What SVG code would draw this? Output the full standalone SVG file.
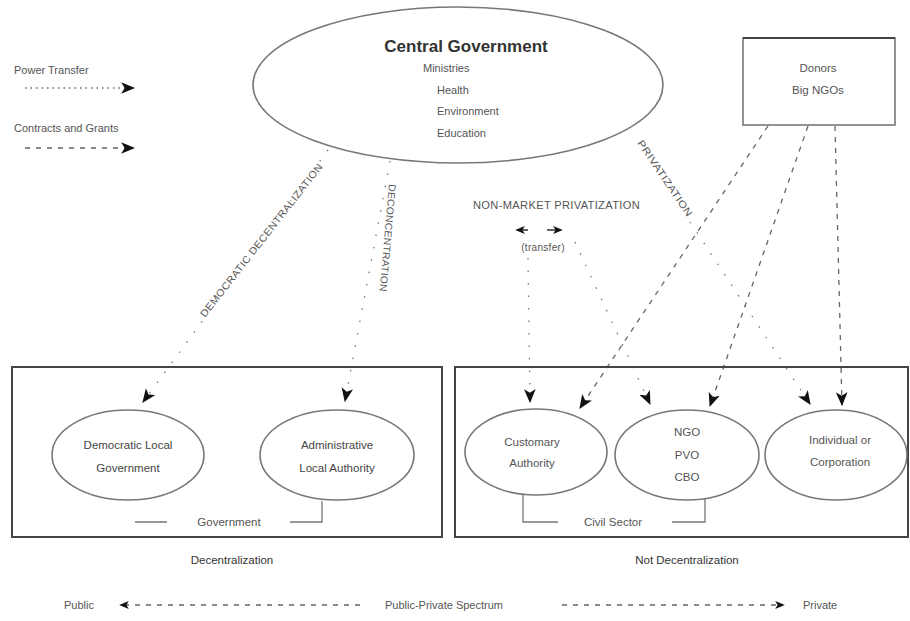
<svg xmlns="http://www.w3.org/2000/svg" width="910" height="621" viewBox="0 0 910 621">
<defs>
<marker id="ah" viewBox="0 0 12 10" refX="11" refY="5" markerWidth="14" markerHeight="12" markerUnits="userSpaceOnUse" orient="auto">
<path d="M0,0 L12,5 L0,10 L3,5 Z" fill="#111"/>
</marker>
<marker id="ahs" viewBox="0 0 12 10" refX="6" refY="5" markerWidth="10" markerHeight="8" markerUnits="userSpaceOnUse" orient="auto-start-reverse">
<path d="M0,0 L12,5 L0,10 L3,5 Z" fill="#111"/>
</marker>
</defs>
<style>
text{font-family:"Liberation Sans",Arial,sans-serif;fill:#555;}
.t{font-size:11px;}
.n{font-size:11.5px;text-anchor:middle;}
.lab{font-size:10px;letter-spacing:0.3px;}
.ell{fill:none;stroke:#777;stroke-width:1.6;}
.box{fill:none;stroke:#444;stroke-width:2;}
.dot{fill:none;stroke:#777;stroke-width:1.3;stroke-dasharray:1.5,11;}
.dash{fill:none;stroke:#666;stroke-width:1.3;stroke-dasharray:5,6;}
.br{fill:none;stroke:#777;stroke-width:1.3;}
.halo{paint-order:stroke;stroke:#fff;stroke-width:3px;}
.cap{font-size:11.5px;text-anchor:middle;fill:#333;}
</style>
<rect width="910" height="621" fill="#fff"/>

<g id="legend">
<text class="t" x="14" y="74">Power Transfer</text>
<line x1="25" y1="88" x2="134" y2="88" stroke="#666" stroke-width="1.3" stroke-dasharray="1.5,4" marker-end="url(#ah)"/>
<text class="t" x="14" y="132">Contracts and Grants</text>
<line class="dash" x1="25" y1="148" x2="134" y2="148" marker-end="url(#ah)"/>
</g>

<g id="connectors">
<line class="dot" x1="328" y1="150" x2="143" y2="402" marker-end="url(#ah)"/>
<line class="dot" x1="390" y1="161" x2="345" y2="401" marker-end="url(#ah)"/>
<line class="dot" x1="690" y1="222" x2="810" y2="404" marker-end="url(#ah)"/>
<line class="dot" x1="528" y1="258" x2="530" y2="402" marker-end="url(#ah)"/>
<line class="dot" x1="575" y1="242" x2="650" y2="404" marker-end="url(#ah)"/>
<line class="dash" x1="768" y1="126" x2="580" y2="408" marker-end="url(#ah)"/>
<line class="dash" x1="808" y1="126" x2="710" y2="406" marker-end="url(#ah)"/>
<line class="dash" x1="835" y1="126" x2="842" y2="405" marker-end="url(#ah)"/>
<line x1="520" y1="230" x2="528" y2="230" stroke="#111" stroke-width="1.3" marker-start="url(#ahs)"/>
<line x1="547" y1="230" x2="558" y2="230" stroke="#111" stroke-width="1.3" marker-end="url(#ahs)"/>
</g>

<g id="connector-labels">
<text class="lab halo" transform="translate(205,318) rotate(-52)" textLength="192" lengthAdjust="spacingAndGlyphs">DEMOCRATIC DECENTRALIZATION</text>
<text class="lab halo" transform="translate(389,184) rotate(95)" textLength="108" lengthAdjust="spacingAndGlyphs">DECONCENTRATION</text>
<text class="lab halo" transform="translate(637,143) rotate(56)" textLength="90" lengthAdjust="spacingAndGlyphs">PRIVATIZATION</text>
<text class="lab" x="473" y="209" textLength="167" lengthAdjust="spacingAndGlyphs">NON-MARKET PRIVATIZATION</text>
<text class="lab" x="543" y="251" text-anchor="middle">(transfer)</text>
</g>

<g id="central-government">
<ellipse class="ell" cx="458" cy="85" rx="205" ry="78"/>
<text x="466" y="52" text-anchor="middle" style="font-size:17px;font-weight:bold;fill:#333">Central Government</text>
<text class="t" x="423" y="72">Ministries</text>
<text class="t" x="437" y="94">Health</text>
<text class="t" x="437" y="115">Environment</text>
<text class="t" x="437" y="137">Education</text>
</g>

<g id="donors">
<rect x="743" y="38" width="152" height="87" fill="none" stroke="#777" stroke-width="1.6"/>
<path d="M743,38 H895" stroke="#444" stroke-width="2"/>
<text class="n" x="818" y="72">Donors</text>
<text class="n" x="818" y="94">Big NGOs</text>
</g>

<g id="decentralization">
<rect class="box" x="12" y="367" width="430" height="170"/>
<text class="cap" x="232" y="564">Decentralization</text>
</g>

<g id="democratic-local-government">
<ellipse class="ell" cx="128" cy="455" rx="76" ry="45"/>
<text class="n" x="128" y="449" style="fill:#444">Democratic Local</text>
<text class="n" x="128" y="472" style="fill:#444">Government</text>
</g>

<g id="administrative-local-authority">
<ellipse class="ell" cx="337" cy="455" rx="77" ry="45"/>
<text class="n" x="337" y="449" style="fill:#444">Administrative</text>
<text class="n" x="337" y="472" style="fill:#444">Local Authority</text>
</g>

<g id="government-bracket">
<path class="br" d="M135,522 H167 M290,522 H322 V501"/>
<text class="n" x="229" y="526">Government</text>
</g>

<g id="not-decentralization">
<rect class="box" x="455" y="367" width="453" height="170"/>
<text class="cap" x="687" y="564">Not Decentralization</text>
</g>

<g id="customary-authority">
<ellipse class="ell" cx="536" cy="452" rx="71" ry="43"/>
<text class="n" x="532" y="446">Customary</text>
<text class="n" x="532" y="467">Authority</text>
</g>

<g id="ngo-pvo-cbo">
<ellipse class="ell" cx="687" cy="455" rx="72" ry="45"/>
<text class="n" x="687" y="436">NGO</text>
<text class="n" x="687" y="459">PVO</text>
<text class="n" x="687" y="481">CBO</text>
</g>

<g id="individual-or-corporation">
<ellipse class="ell" cx="836" cy="455" rx="71" ry="45"/>
<text class="n" x="840" y="444">Individual or</text>
<text class="n" x="840" y="466">Corporation</text>
</g>

<g id="civil-sector-bracket">
<path class="br" d="M523,495 V522 H558 M672,522 H705 V498"/>
<text class="n" x="613" y="526">Civil Sector</text>
</g>

<g id="spectrum">
<text class="t" x="64" y="609">Public</text>
<line class="dash" x1="124" y1="605" x2="362" y2="605" marker-start="url(#ahs)"/>
<text class="t" x="385" y="609">Public-Private Spectrum</text>
<line class="dash" x1="562" y1="605" x2="780" y2="605" marker-end="url(#ahs)"/>
<text class="t" x="803" y="609">Private</text>
</g>
</svg>
